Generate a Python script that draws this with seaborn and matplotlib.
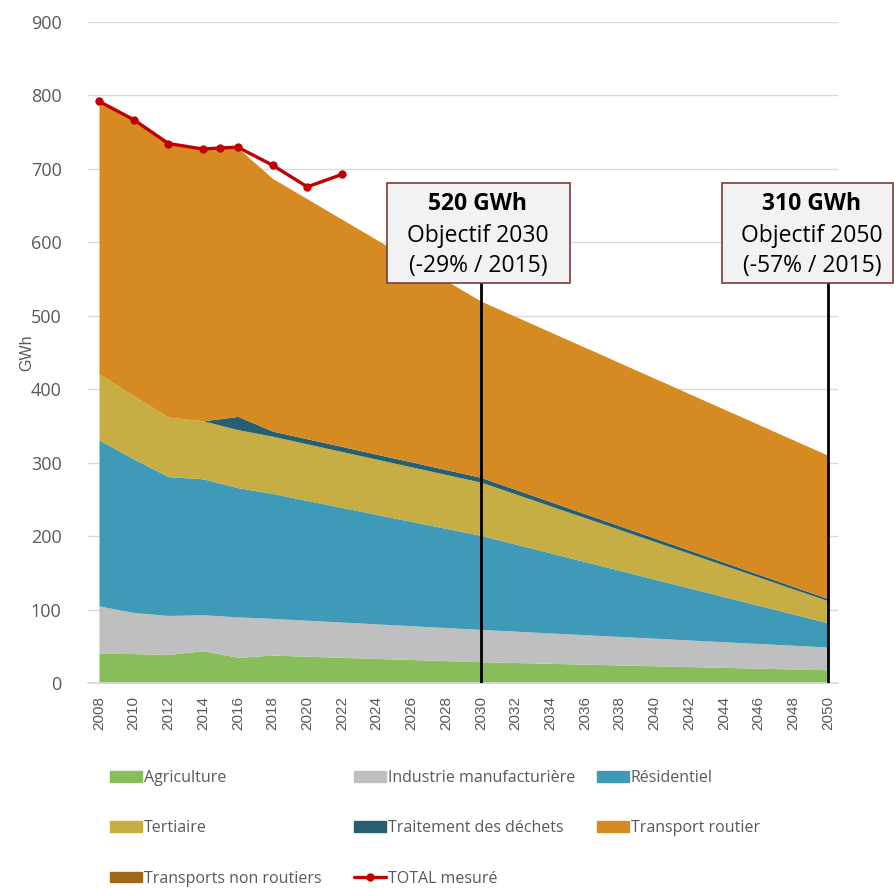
import pandas as pd
import matplotlib.pyplot as plt
import seaborn as sns
from matplotlib.patches import Patch, Rectangle
from matplotlib.lines import Line2D

# Données (GWh)
years = [2008, 2010, 2012, 2014, 2016, 2018, 2030, 2050]
agriculture = [41, 40, 39, 44, 35, 38, 29, 18]
industrie = [64, 56, 53, 49, 55, 50, 44, 31]
residentiel = [226, 209, 189, 185, 176, 170, 128, 33]
tertiaire = [90, 86, 81, 79, 79, 78, 72.5, 30]
dechets = [0, 0, 0, 0, 18, 7, 6.5, 3]
transport_routier = [371, 376, 372, 369.5, 365.5, 344, 240, 195]
transport_non_routier = [0, 0, 0, 0, 0, 0, 0, 0]

total_years = [2008, 2010, 2012, 2014, 2015, 2016, 2018, 2020, 2022]
total_mesure = [792, 767, 734.5, 727, 728.5, 729.5, 705, 675.5, 692.5]

objectifs = [(2030, "520 GWh", "Objectif 2030", "(-29% / 2015)"),
             (2050, "310 GWh", "Objectif 2050", "(-57% / 2015)")]

labels = ["Agriculture", "Industrie manufacturière", "Résidentiel", "Tertiaire",
          "Traitement des déchets", "Transport routier", "Transports non routiers"]
colors = ["#87bd5a", "#bfbfbf", "#3f9ab8", "#c6ae45", "#265f70", "#d68b22", "#a0691a"]
red = "#c00000"
grey_txt = "#595959"

sns.set_theme(style="white")
plt.rcParams["font.family"] = ["Open Sans", "DejaVu Sans"]

fig = plt.figure(figsize=(8.95, 8.89), dpi=100)
ax = fig.add_axes([0.0983, 0.2317, 0.838, 0.7436])

ax.stackplot(years, agriculture, industrie, residentiel, tertiaire, dechets,
             transport_routier, transport_non_routier, colors=colors, linewidth=0)

df_total = pd.DataFrame({"annee": total_years, "total": total_mesure})
sns.lineplot(data=df_total, x="annee", y="total", ax=ax, color=red, lw=2.4,
             marker="o", markersize=6, markeredgewidth=0)

ax.set_xlim(2007.366, 2050.576)
ax.set_ylim(0, 900)
ax.set_yticks(range(0, 901, 100))
ax.set_xticks(range(2008, 2051, 2))
ax.tick_params(axis="y", labelsize=13, labelcolor=grey_txt, length=0, pad=19)
ax.tick_params(axis="x", labelsize=11, labelcolor=grey_txt, length=0, pad=9, rotation=90)
for t in ax.get_xticklabels():
    t.set_family(["Liberation Sans", "DejaVu Sans"])
ax.grid(axis="y", color="#d9d9d9", lw=1)
ax.set_axisbelow(True)
for s in ["top", "right", "left"]:
    ax.spines[s].set_visible(False)
ax.spines["bottom"].set_color("#d9d9d9")
ax.set_xlabel("")
ax.set_ylabel("GWh", fontsize=11.5, color=grey_txt, labelpad=-2.5,
              family=["Liberation Sans", "DejaVu Sans"])

# Objectifs : traits verticaux et encadrés
px_year = 729 / 42
px_val = 661 / 900
boxes = {2030: (387, 570), 2050: (722, 893)}
text_x = {2030: 478, 2050: 812}
for yr, v, l1, l2 in objectifs:
    ax.plot([yr, yr], [0, 545], color="black", lw=2, zorder=5)
    x0 = 2008 + (boxes[yr][0] - 99) / px_year
    w = (boxes[yr][1] - boxes[yr][0]) / px_year
    ax.add_patch(Rectangle((x0, 545), w, 136, facecolor="#f2f2f2",
                           edgecolor="#7a3b3b", lw=1.2, clip_on=False, zorder=6))
    tx = 2008 + (text_x[yr] - 99) / px_year
    ax.text(tx, 545 + (283 - 204) / px_val, v, ha="center", va="center",
            fontsize=16.5, fontweight="bold", color="black", zorder=7, clip_on=False)
    ax.text(tx, 545 + (283 - 236) / px_val, l1, ha="center", va="center",
            fontsize=16.5, color="black", zorder=7, clip_on=False)
    ax.text(tx, 545 + (283 - 266) / px_val, l2, ha="center", va="center",
            fontsize=16.5, color="black", zorder=7, clip_on=False)

# Légende en trois colonnes
handles = [Patch(color=c) for c in colors]
total_handle = Line2D([], [], color=red, lw=2.4, marker="o", markersize=5)
cols = [
    ([handles[0], handles[3], handles[6]], [labels[0], labels[3], labels[6]], 110),
    ([handles[1], handles[4], total_handle], [labels[1], labels[4], "TOTAL mesuré"], 354),
    ([handles[2], handles[5]], [labels[2], labels[5]], 597),
]
for h, l, x0 in cols:
    fig.legend(h, l, loc="upper left", bbox_to_anchor=(x0 / 895, 1 - 770 / 889),
               frameon=False, fontsize=11.5, labelcolor=grey_txt, borderpad=0,
               borderaxespad=0, handlelength=2.0, handleheight=0.65,
               handletextpad=0.1, labelspacing=2.15)

fig.savefig("out.png", dpi=100)
